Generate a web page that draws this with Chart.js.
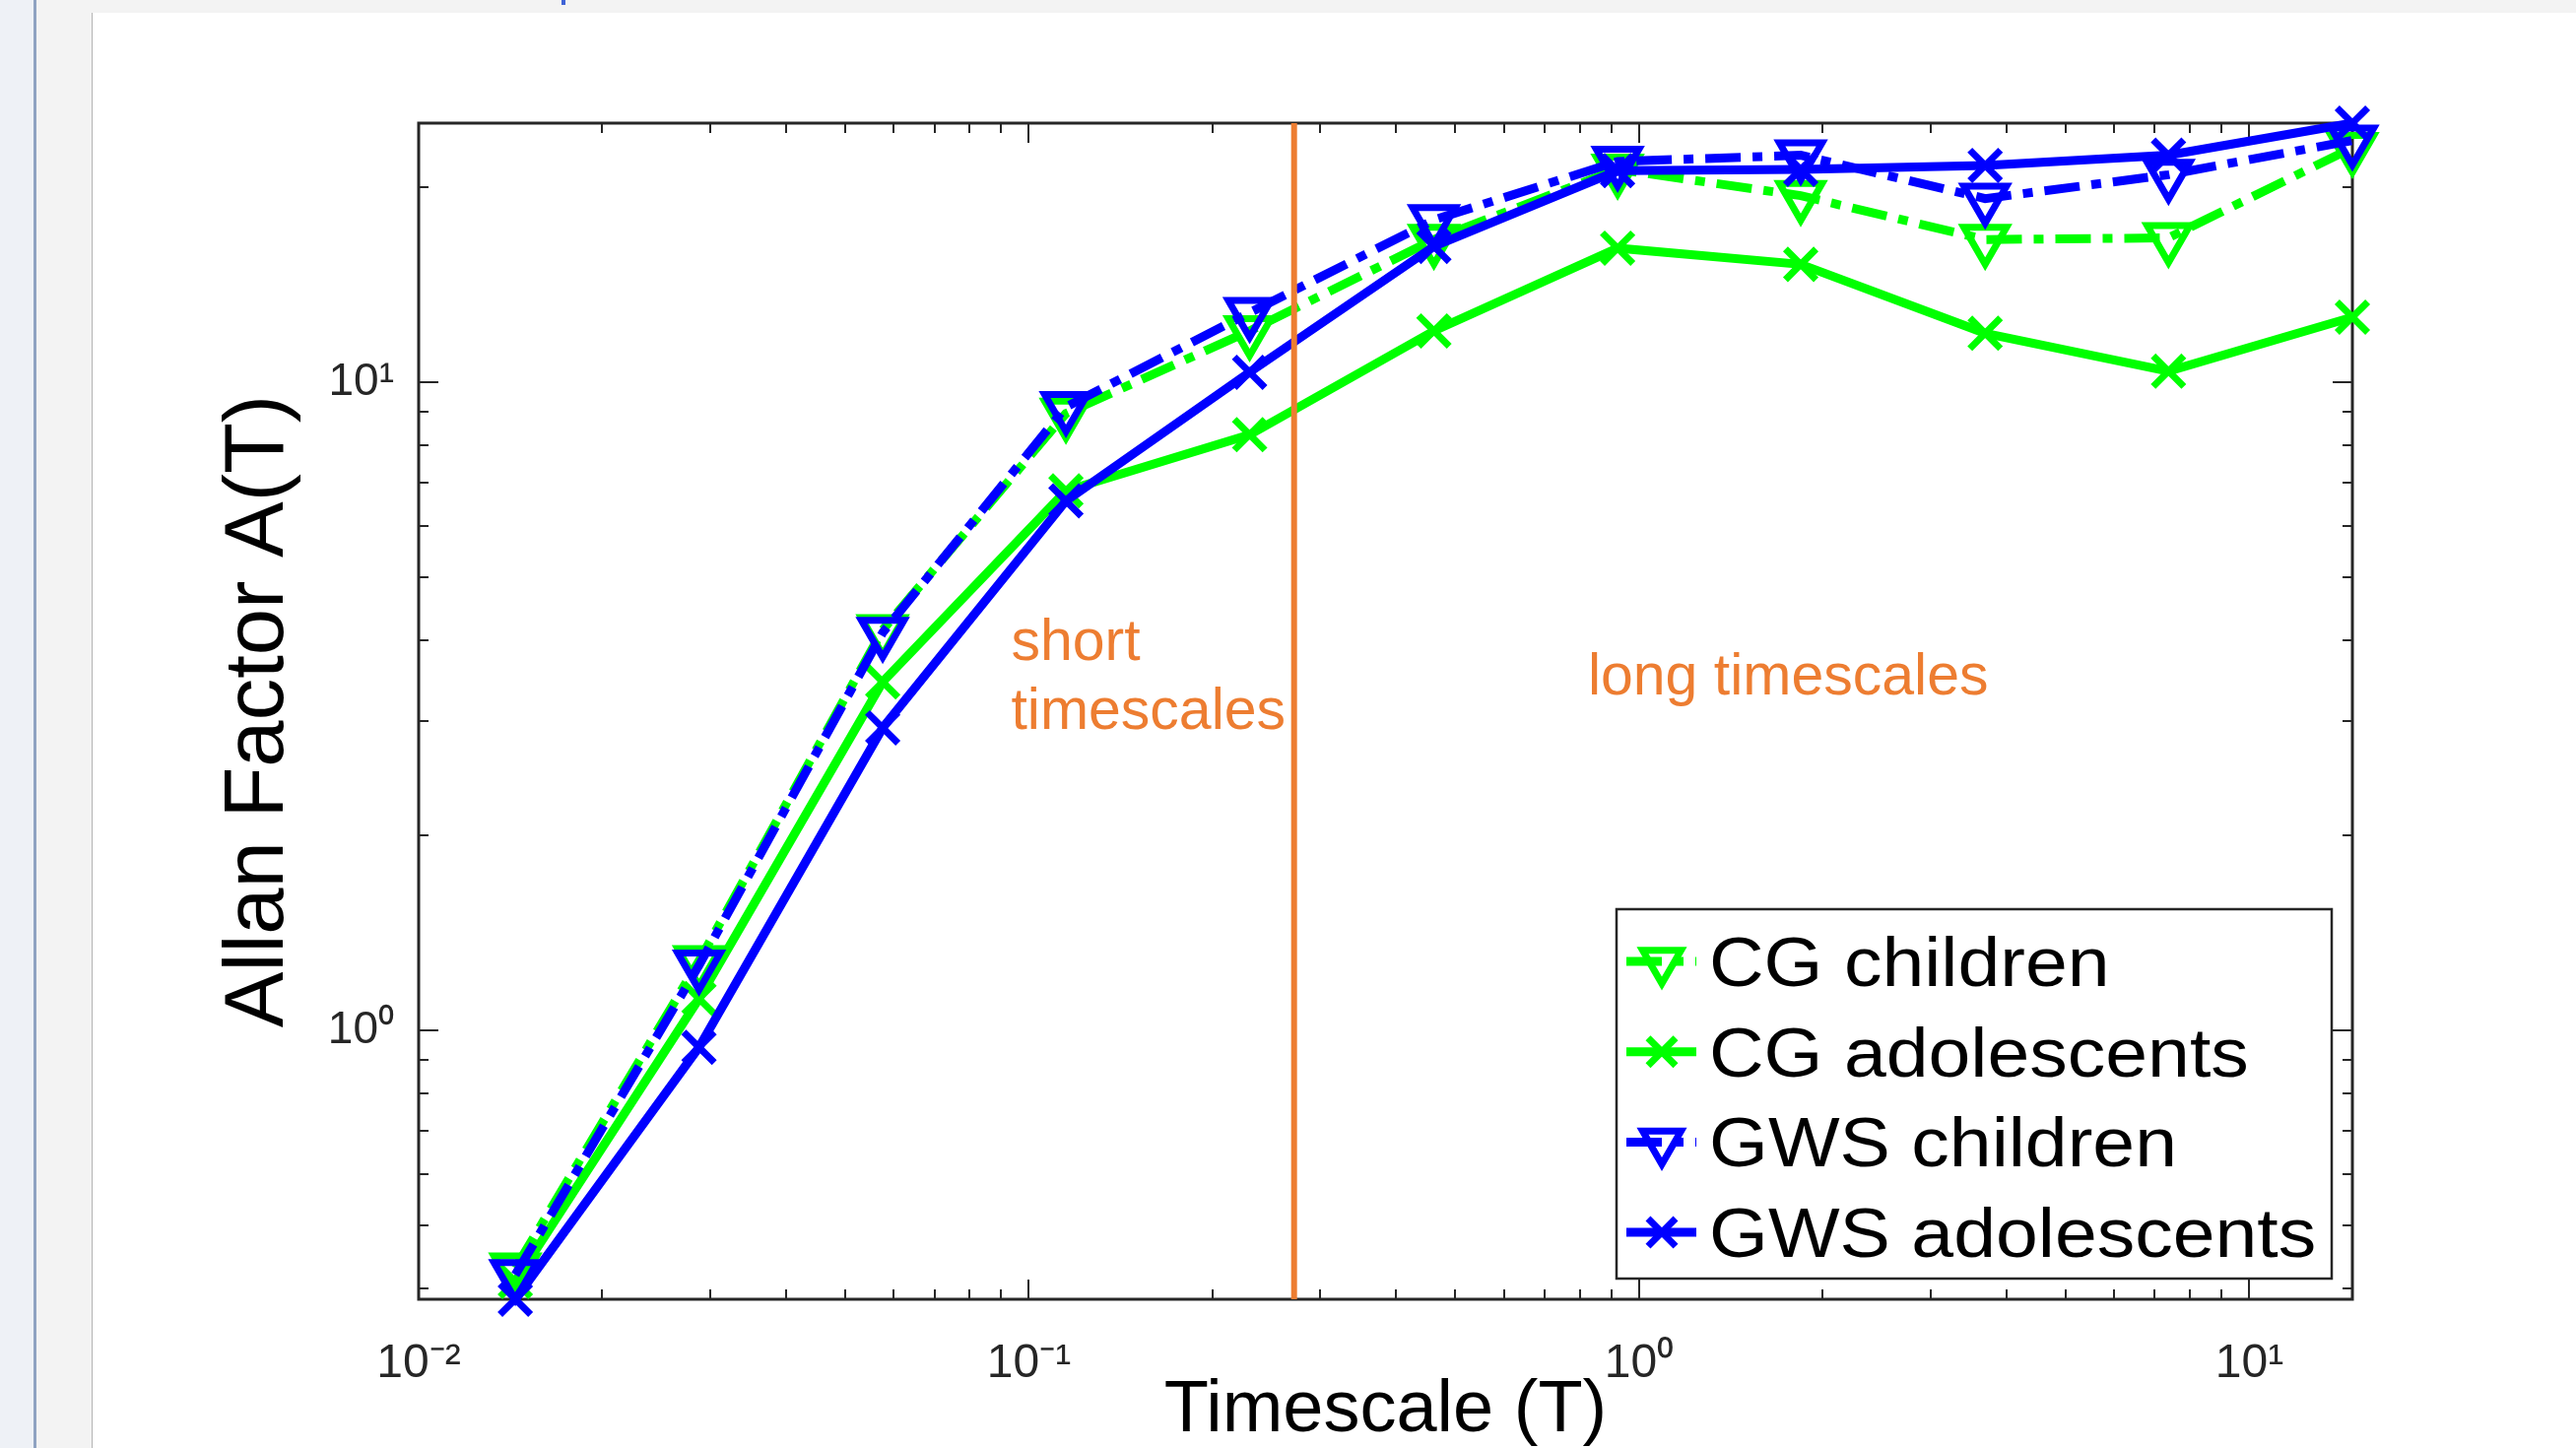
<!DOCTYPE html>
<html>
<head>
<meta charset="utf-8">
<title>Allan Factor</title>
<script src="https://cdn.jsdelivr.net/npm/chart.js@4.4.0/dist/chart.umd.min.js"></script>
<style>
    html, body { margin: 0; padding: 0; }
    body { width: 2615px; height: 1470px; background: #f3f3f3; position: relative; overflow: hidden; }
    #rail { position: absolute; left: 0; top: 0; width: 34px; height: 1470px; background: #eef1f6; border-right: 3px solid #8fa2c1; }
    #page { position: absolute; left: 93px; top: 13px; right: 0; bottom: 0; background: #fff; border-left: 1px solid #b4b4b4; }
    #tab { position: absolute; left: 570px; top: 0; width: 4px; height: 5px; background: #3f63d6; }
    #wrap { position: absolute; left: 0; top: 0; width: 2615px; height: 1470px; }
</style>
</head>
<body>
<div id="rail"></div>
<div id="page"></div>
<div id="tab"></div>
<div id="wrap"><canvas id="afChart"></canvas></div>
<script>
// timescales T (s) and Allan factor per group
const timescale = [0.0144, 0.0288, 0.0576, 0.115, 0.23, 0.461, 0.922, 1.84, 3.69, 7.37, 14.75];
const cgChildren = [0.43, 1.28, 4.15, 8.95, 12.0, 16.6, 21.3, 19.4, 16.6, 16.7, 23.0];
const cgAdolescents = [0.41, 1.12, 3.45, 6.8, 8.3, 12.0, 16.1, 15.2, 11.9, 10.4, 12.6];
const gwsChildren = [0.42, 1.26, 4.11, 9.16, 12.8, 17.8, 21.9, 22.4, 19.2, 20.9, 23.6];
const gwsAdolescents = [0.385, 0.942, 2.93, 6.56, 10.36, 16.2, 21.2, 21.3, 21.6, 22.4, 25.1];

// boundary between short and long timescales
const divider = 0.272;

const series = [
    { label: 'CG children', values: cgChildren, color: '#00ff00', kind: 'children' },
    { label: 'CG adolescents', values: cgAdolescents, color: '#00ff00', kind: 'adolescents' },
    { label: 'GWS children', values: gwsChildren, color: '#0000ff', kind: 'children' },
    { label: 'GWS adolescents', values: gwsAdolescents, color: '#0000ff', kind: 'adolescents' }
];

const notes = [
    { lines: ['short', 'timescales'], x: 0.0935, y: 3.73 },
    { lines: ['long timescales'], x: 0.824, y: 3.30 }
];

const allValues = series.flatMap(s => s.values);
const yLow = Math.min(...allValues);
const yHigh = Math.max(...allValues);

const FONT = "'Liberation Sans', Arial, sans-serif";
const AXIS_COLOR = '#262626';
const ORANGE = '#ED7D31';

Chart.defaults.font.family = FONT;

const supChars = { '-': '\u207B', '0': '\u2070', '1': '\u00B9', '2': '\u00B2', '3': '\u00B3' };
const powerLabel = v => {
    const e = Math.round(Math.log10(v));
    if (Math.abs(Math.log10(v) - e) > 1e-6) return '';
    return '10' + String(e).split('').map(c => supChars[c]).join('');
};

// 1..9 x 10^k ticks inside [min, max]
const decadeTicks = (min, max) => {
    const out = [];
    for (let k = Math.floor(Math.log10(min)); k <= Math.ceil(Math.log10(max)); k++) {
        for (let d = 1; d <= 9; d++) {
            const v = d * Math.pow(10, k);
            if (v >= min * 0.9999 && v <= max * 1.0001) out.push({ value: v, major: d === 1 });
        }
    }
    return out;
};

// MATLAB style box with inward ticks on all four sides
const boxAxes = {
    id: 'boxAxes',
    beforeDatasetsDraw(chart) {
        const { ctx, chartArea: a, scales: { x, y } } = chart;
        ctx.save();
        ctx.strokeStyle = AXIS_COLOR;
        ctx.lineWidth = 2;
        ctx.beginPath();
        decadeTicks(x.min, x.max).forEach(t => {
            const px = Math.round(x.getPixelForValue(t.value));
            const len = t.major ? 20 : 10;
            ctx.moveTo(px, a.bottom); ctx.lineTo(px, a.bottom - len);
            ctx.moveTo(px, a.top); ctx.lineTo(px, a.top + len);
        });
        decadeTicks(y.min, y.max).forEach(t => {
            const py = Math.round(y.getPixelForValue(t.value));
            const len = t.major ? 20 : 10;
            ctx.moveTo(a.left, py); ctx.lineTo(a.left + len, py);
            ctx.moveTo(a.right, py); ctx.lineTo(a.right - len, py);
        });
        ctx.stroke();
        ctx.lineWidth = 3;
        ctx.strokeRect(a.left, a.top, a.right - a.left, a.bottom - a.top);
        ctx.restore();
    }
};

// orange region labels, anchored in data coordinates
const regionNotes = {
    id: 'regionNotes',
    afterDatasetsDraw(chart) {
        const { ctx, scales: { x, y } } = chart;
        ctx.save();
        ctx.fillStyle = ORANGE;
        ctx.font = '59px ' + FONT;
        ctx.textAlign = 'left';
        ctx.textBaseline = 'alphabetic';
        notes.forEach(n => {
            const px = x.getPixelForValue(n.x);
            const py = y.getPixelForValue(n.y);
            n.lines.forEach((line, i) => ctx.fillText(line, px, py + i * 70));
        });
        ctx.restore();
    }
};

// legend box in the lower right corner of the axes
const boxLegend = {
    id: 'boxLegend',
    afterDatasetsDraw(chart) {
        const { ctx, chartArea: a } = chart;
        const items = chart.data.datasets.filter(d => d.label);
        const w = 726, rowH = 91.7, h = 375;
        const left = a.right - 21 - w;
        const top = a.bottom - 21 - h;
        ctx.save();
        ctx.fillStyle = '#fff';
        ctx.fillRect(left, top, w, h);
        ctx.strokeStyle = AXIS_COLOR;
        ctx.lineWidth = 2.5;
        ctx.strokeRect(left, top, w, h);
        items.forEach((d, i) => {
            const cy = top + 53 + i * rowH;
            ctx.strokeStyle = d.borderColor;
            ctx.lineWidth = d.borderWidth;
            ctx.setLineDash(d.borderDash || []);
            ctx.beginPath();
            ctx.moveTo(left + 10, cy);
            ctx.lineTo(left + 81, cy);
            ctx.stroke();
            ctx.setLineDash([]);
            ctx.lineWidth = d.pointBorderWidth;
            ctx.fillStyle = 'rgba(0,0,0,0)';
            Chart.helpers.drawPoint(ctx, {
                pointStyle: d.pointStyle,
                rotation: d.pointRotation,
                radius: d.pointRadius * 0.9,
                borderWidth: d.pointBorderWidth
            }, left + 46, cy);
            ctx.save();
            ctx.fillStyle = '#000';
            ctx.font = '70px ' + FONT;
            ctx.textBaseline = 'alphabetic';
            ctx.translate(left + 94, cy + 25);
            ctx.scale(1.1, 1);
            ctx.fillText(d.label, 0, 0);
            ctx.restore();
        });
        ctx.restore();
    }
};

const datasets = series.map((s, i) => {
    const child = s.kind === 'children';
    return {
        label: s.label,
        data: timescale.map((t, j) => ({ x: t, y: s.values[j] })),
        borderColor: s.color,
        backgroundColor: s.color,
        borderWidth: 9,
        borderDash: child ? [36, 12, 10, 12] : [],
        pointStyle: child ? 'triangle' : 'crossRot',
        pointRotation: child ? 180 : 0,
        pointRadius: child ? 25 : 22,
        pointBorderWidth: 7,
        pointBorderColor: s.color,
        pointBackgroundColor: 'rgba(0,0,0,0)',
        order: series.length - i,
        clip: false,
        fill: false,
        tension: 0
    };
});

datasets.push({
    label: '',
    data: [{ x: divider, y: yLow }, { x: divider, y: yHigh }],
    borderColor: ORANGE,
    borderWidth: 6,
    pointRadius: 0,
    order: 0,
    fill: false
});

new Chart(document.getElementById('afChart'), {
    type: 'line',
    data: { datasets },
    options: {
        responsive: true,
        maintainAspectRatio: false,
        animation: false,
        events: [],
        layout: { padding: { left: 0, right: 227, top: 125, bottom: 0 } },
        plugins: {
            legend: { display: false },
            tooltip: { enabled: false }
        },
        scales: {
            x: {
                type: 'logarithmic',
                min: 0.01,
                max: timescale[timescale.length - 1],
                grid: { display: false, drawTicks: false },
                border: { display: false },
                afterBuildTicks: s => { s.ticks = decadeTicks(s.min, s.max).filter(t => t.major); },
                afterFit: s => { s.height = 151; },
                ticks: {
                    callback: v => powerLabel(v),
                    color: AXIS_COLOR,
                    font: { size: 48 },
                    padding: 37,
                    maxRotation: 0,
                    autoSkip: false
                },
                title: {
                    display: true,
                    text: 'Timescale (T)',
                    color: '#000',
                    font: { size: 74, lineHeight: 1 },
                    padding: 0
                }
            },
            y: {
                type: 'logarithmic',
                min: yLow,
                max: yHigh,
                grid: { display: false, drawTicks: false },
                border: { display: false },
                afterBuildTicks: s => { s.ticks = decadeTicks(s.min, s.max).filter(t => t.major); },
                afterFit: s => { s.width = 425; },
                ticks: {
                    callback: v => powerLabel(v),
                    color: AXIS_COLOR,
                    font: { size: 46 },
                    padding: 25,
                    autoSkip: false
                },
                title: {
                    display: true,
                    text: 'Allan Factor A(T)',
                    color: '#000',
                    font: { size: 85, lineHeight: 1 },
                    padding: { top: 221, bottom: 0 }
                }
            }
        }
    },
    plugins: [boxAxes, regionNotes, boxLegend]
});
</script>
</body>
</html>
